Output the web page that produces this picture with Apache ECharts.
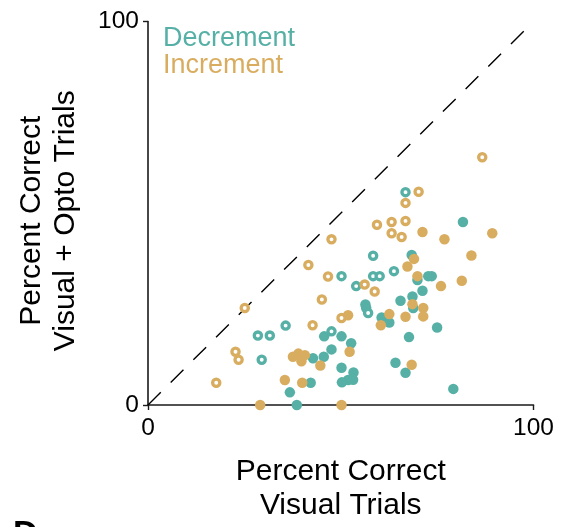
<!DOCTYPE html>
<html>
<head>
<meta charset="utf-8">
<script src="https://cdn.jsdelivr.net/npm/echarts@6/dist/echarts.min.js"></script>
<style>
  html, body { margin: 0; padding: 0; background: #fff; }
  #chart { width: 561px; height: 527px; }
</style>
</head>
<body>
<div id="chart"></div>
<script>
// Percent correct: visual-only trials (x) vs visual + opto trials (y)
const axisTicks = [0, 100];
const legendLabels = ['Decrement', 'Increment'];

// Decrement sessions, filled markers
const decrementFilled = [
  [81.7, 47.7], [68.4, 39.1], [69.9, 32.6], [72.7, 33.6], [73.6, 33.6], [71.2, 29.8],
  [68.6, 28.3], [65.5, 27.2], [68.8, 25.3], [56.4, 26.2], [56.6, 25.3], [60.6, 22.8],
  [62.6, 21.5], [75.0, 20.2], [45.7, 17.9], [50.2, 17.9], [52.7, 16.1], [47.6, 14.5],
  [42.8, 12.2], [45.6, 12.6], [67.7, 17.7], [64.2, 11.0], [66.8, 8.4], [50.2, 9.7],
  [53.3, 8.5], [53.2, 6.6], [51.9, 6.5], [50.3, 5.9], [42.2, 5.8], [36.8, 3.3],
  [38.6, 0], [79.2, 4.2]
];

// Increment sessions, filled markers
const incrementFilled = [
  [89.3, 44.8], [71.2, 45.1], [76.9, 43.2], [83.9, 39.0], [69.0, 38.1], [67.3, 36.1],
  [69.9, 33.6], [81.4, 32.4], [76.0, 31.0], [68.6, 26.3], [71.4, 25.3], [71.4, 23.1],
  [66.8, 23.0], [62.6, 23.7], [60.4, 20.8], [51.9, 23.4], [52.3, 13.9], [44.7, 10.3],
  [37.6, 12.6], [39.0, 13.4], [39.8, 11.4], [40.7, 13.0], [35.5, 6.5], [40.0, 5.8],
  [68.4, 10.5], [29.1, 0], [50.2, 0]
];

// Decrement sessions, open markers
const decrementOpen = [
  [66.8, 55.5], [58.4, 38.9], [63.8, 34.9], [50.2, 33.6], [58.4, 33.6], [60.1, 33.6],
  [54.0, 31.0], [35.7, 20.7], [47.6, 19.2], [28.5, 18.1], [31.6, 18.1], [57.1, 24.0],
  [29.5, 11.8]
];

// Increment sessions, open markers
const incrementOpen = [
  [86.7, 64.6], [70.2, 55.6], [66.8, 52.7], [59.4, 47.0], [63.2, 47.7], [66.8, 48.0],
  [63.2, 44.8], [65.8, 43.8], [47.6, 43.2], [41.6, 36.5], [46.7, 33.5], [56.2, 31.4],
  [58.8, 29.6], [45.1, 27.5], [25.1, 25.3], [50.2, 22.7], [42.7, 20.8], [22.7, 13.9],
  [23.5, 11.8], [17.7, 5.8]
];

// Unity line
const unityLine = [[0, 0], [100, 100]];

const TEAL = '#56b0a6';
const GOLD = '#d9ad60';
const FONT = 'Liberation Sans, Arial, Helvetica, sans-serif';

function filledSeries(name, data, color) {
  return {
    type: 'scatter', name, data, clip: false,
    symbol: 'circle', symbolSize: 10.5,
    itemStyle: { color, opacity: 1 },
    emphasis: { disabled: true }
  };
}
function openSeries(name, data, color) {
  return {
    type: 'scatter', name, data, clip: false,
    symbol: 'circle', symbolSize: 7.2,
    itemStyle: { color: '#ffffff', borderColor: color, borderWidth: 3.3, opacity: 1 },
    emphasis: { disabled: true }
  };
}

const axisCommon = {
  type: 'value',
  min: axisTicks[0],
  max: axisTicks[axisTicks.length - 1],
  interval: axisTicks[1] - axisTicks[0],
  splitLine: { show: false },
  axisLine: { show: true, lineStyle: { color: '#1a1a1a', width: 1.6 } },
  axisTick: { show: true, length: 5, lineStyle: { color: '#1a1a1a', width: 1.4 } },
  nameLocation: 'middle',
  nameTextStyle: { fontFamily: FONT, fontSize: 30, color: '#000', lineHeight: 33.5 }
};

const chart = echarts.init(document.getElementById('chart'), null, { renderer: 'canvas' });
chart.setOption({
  animation: false,
  backgroundColor: '#ffffff',
  grid: { left: 148, right: 27.5, top: 21.5, bottom: 121.5, containLabel: false },
  xAxis: Object.assign({}, axisCommon, {
    name: 'Percent Correct\nVisual Trials',
    nameGap: 50,
    axisLabel: { fontFamily: FONT, fontSize: 24.5, color: '#000', margin: 11 }
  }),
  yAxis: Object.assign({}, axisCommon, {
    name: 'Percent Correct\nVisual + Opto Trials',
    nameGap: 66,
    nameRotate: 90,
    nameTextStyle: Object.assign({}, axisCommon.nameTextStyle, { padding: [0, 15, 0, 0] }),
    axisLabel: { fontFamily: FONT, fontSize: 24.5, color: '#000', margin: 9 }
  }),
  legend: {
    orient: 'vertical',
    left: 153, top: 20,
    itemGap: 0, itemWidth: 0, itemHeight: 10,
    selectedMode: false,
    data: [
      { name: legendLabels[0], icon: 'none', textStyle: { color: TEAL } },
      { name: legendLabels[1], icon: 'none', textStyle: { color: GOLD } }
    ],
    textStyle: { fontFamily: FONT, fontSize: 27, lineHeight: 25 }
  },
  series: [
    {
      type: 'line', data: unityLine, symbol: 'none', silent: true,
      lineStyle: { color: '#000', width: 1.4, type: [18, 14] },
      z: 1
    },
    filledSeries(legendLabels[0], decrementFilled, TEAL),
    filledSeries(legendLabels[1], incrementFilled, GOLD),
    openSeries(legendLabels[0], decrementOpen, TEAL),
    openSeries(legendLabels[1], incrementOpen, GOLD)
  ],
  graphic: [
    {
      type: 'text', left: 13, top: 518,
      style: { text: 'D', fontFamily: FONT, fontSize: 34, fontWeight: 'bold', fill: '#000' }
    }
  ]
});
</script>
</body>
</html>
